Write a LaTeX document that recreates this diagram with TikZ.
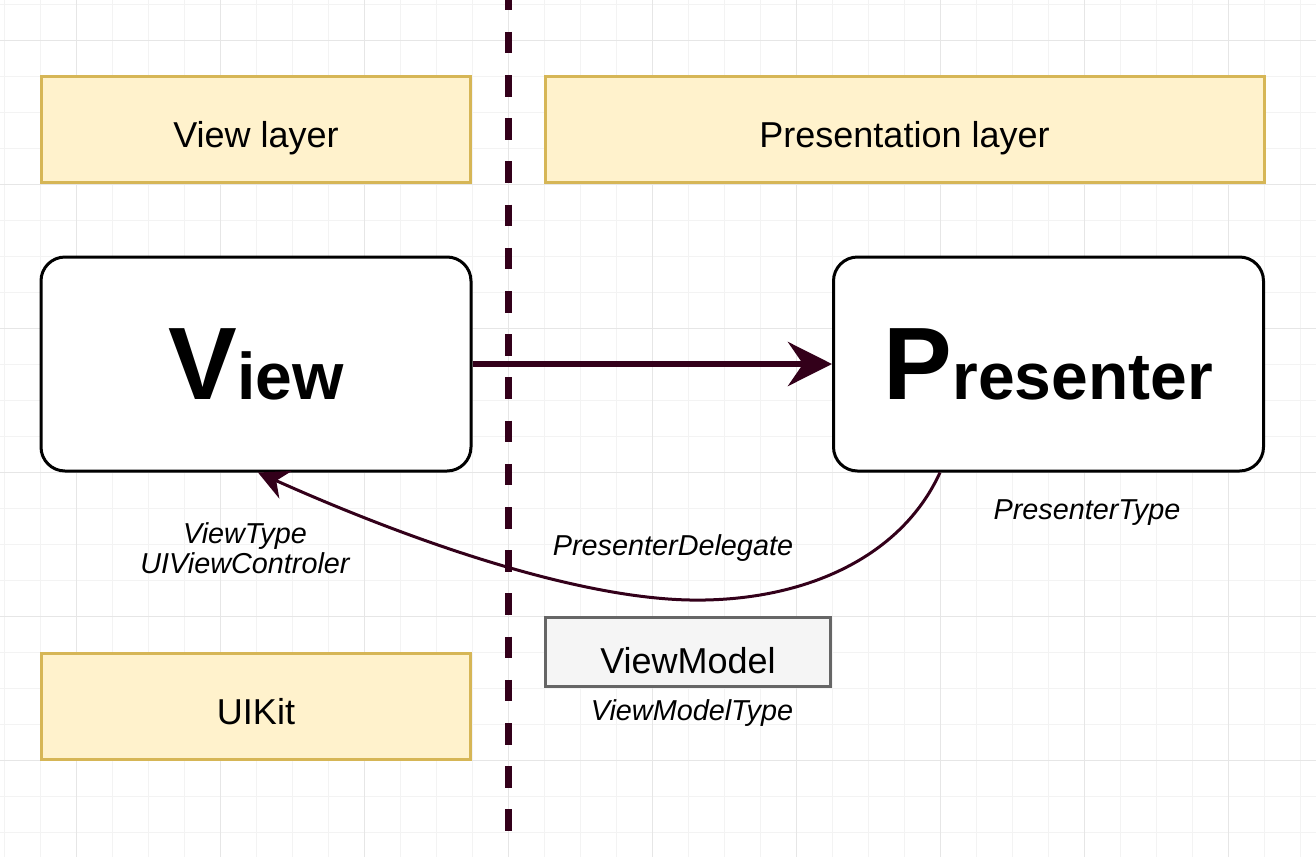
\documentclass[tikz,border=0pt]{standalone}
\usepackage{fontspec}
\setmainfont{Liberation Sans}
\usepackage{xcolor}
\usepackage{tikz}
\usetikzlibrary{positioning,arrows.meta}

\definecolor{layerfill}{HTML}{FFF2CC}
\definecolor{layerdraw}{HTML}{D6B656}
\definecolor{wine}{HTML}{33001A}
\definecolor{vmfill}{HTML}{F5F5F5}
\definecolor{vmdraw}{HTML}{666666}
\definecolor{gridminor}{HTML}{F3F3F3}
\definecolor{gridmajor}{HTML}{E6E6E6}

\begin{document}
\begin{tikzpicture}[
  x=0.5pt, y=-0.5pt,
  every node/.style={font=\fontsize{18}{22}\selectfont},
  layer/.style={
    draw=layerdraw, fill=layerfill, line width=1.5pt,
    minimum width=214.5pt, minimum height=53pt,
    text height=18pt, text depth=0pt,
  },
  comp/.style={
    draw=black, fill=white, line width=1.5pt, rounded corners=12pt,
    minimum width=215pt, minimum height=107pt,
  },
  model/.style={
    draw=vmdraw, fill=vmfill, line width=1.5pt,
    minimum width=142.5pt, minimum height=34.5pt,
    text height=21pt, text depth=0pt,
  },
  lbl/.style={font=\fontsize{14.4}{15}\selectfont\itshape, align=center},
  arr/.style={-{Stealth[length=22pt,width=22pt,inset=7.5pt]}, line width=3pt, wine},
  back/.style={-{Stealth[length=15pt,width=15pt,inset=5pt]}, line width=1.5pt, wine},
  divider/.style={wine, line width=3.5pt, dash pattern=on 10.8pt off 10.8pt},
  gridline/.style={gridminor, line width=0.5pt},
  gridbold/.style={gridmajor, line width=0.5pt},
]

\useasboundingbox (0,0) rectangle (1316,857);
\fill[white] (0,0) rectangle (1316,857);

% background grid
\foreach \gx in {4,40,...,1316} \draw[gridline] (\gx,0) -- (\gx,857);
\foreach \gy in {4,40,...,857} \draw[gridline] (0,\gy) -- (1316,\gy);
\foreach \gx in {76,220,...,1316} \draw[gridbold] (\gx,0) -- (\gx,857);
\foreach \gy in {40,184,...,857} \draw[gridbold] (0,\gy) -- (1316,\gy);

% layer boundary
\coordinate (divtop) at (508,-11.4);
\coordinate (divbot) at (508,832);
\draw[divider] (divtop) -- (divbot);

\node[layer] (viewlayer) at (256,129.5) {View layer};
\node[layer, minimum width=359.5pt] (preslayer) at (904.5,129.5) {Presentation layer};

\node[comp] (view) at (256,364)
  {{\fontsize{51.5}{60}\selectfont\bfseries V}{\fontsize{33}{40}\selectfont\bfseries iew}};
\node[comp] (presenter) at (1048.5,364)
  {{\fontsize{51.5}{60}\selectfont\bfseries P}{\fontsize{33}{40}\selectfont\bfseries resenter}};

\node[model] (vm) at (688,652) {ViewModel};
\node[layer] (uikit) at (256,706) {UIKit};

\node[lbl] (viewtype) at (245,548) {ViewType\\UIViewControler};
\node[lbl] (delegate) at (673,548) {PresenterDelegate};
\node[lbl] (prestype) at (1087,513) {PresenterType};
\node[lbl, below=2.5pt of vm, xshift=2pt] (vmtype) {ViewModelType};

\draw[arr] (view) -- (presenter);
\draw[back] ([xshift=54pt]presenter.south west)
  .. controls (900,560) and (800,602) .. (690,600)
  .. controls (580,598) and (420,545) .. ([xshift=1pt]view.south);

\end{tikzpicture}
\end{document}
